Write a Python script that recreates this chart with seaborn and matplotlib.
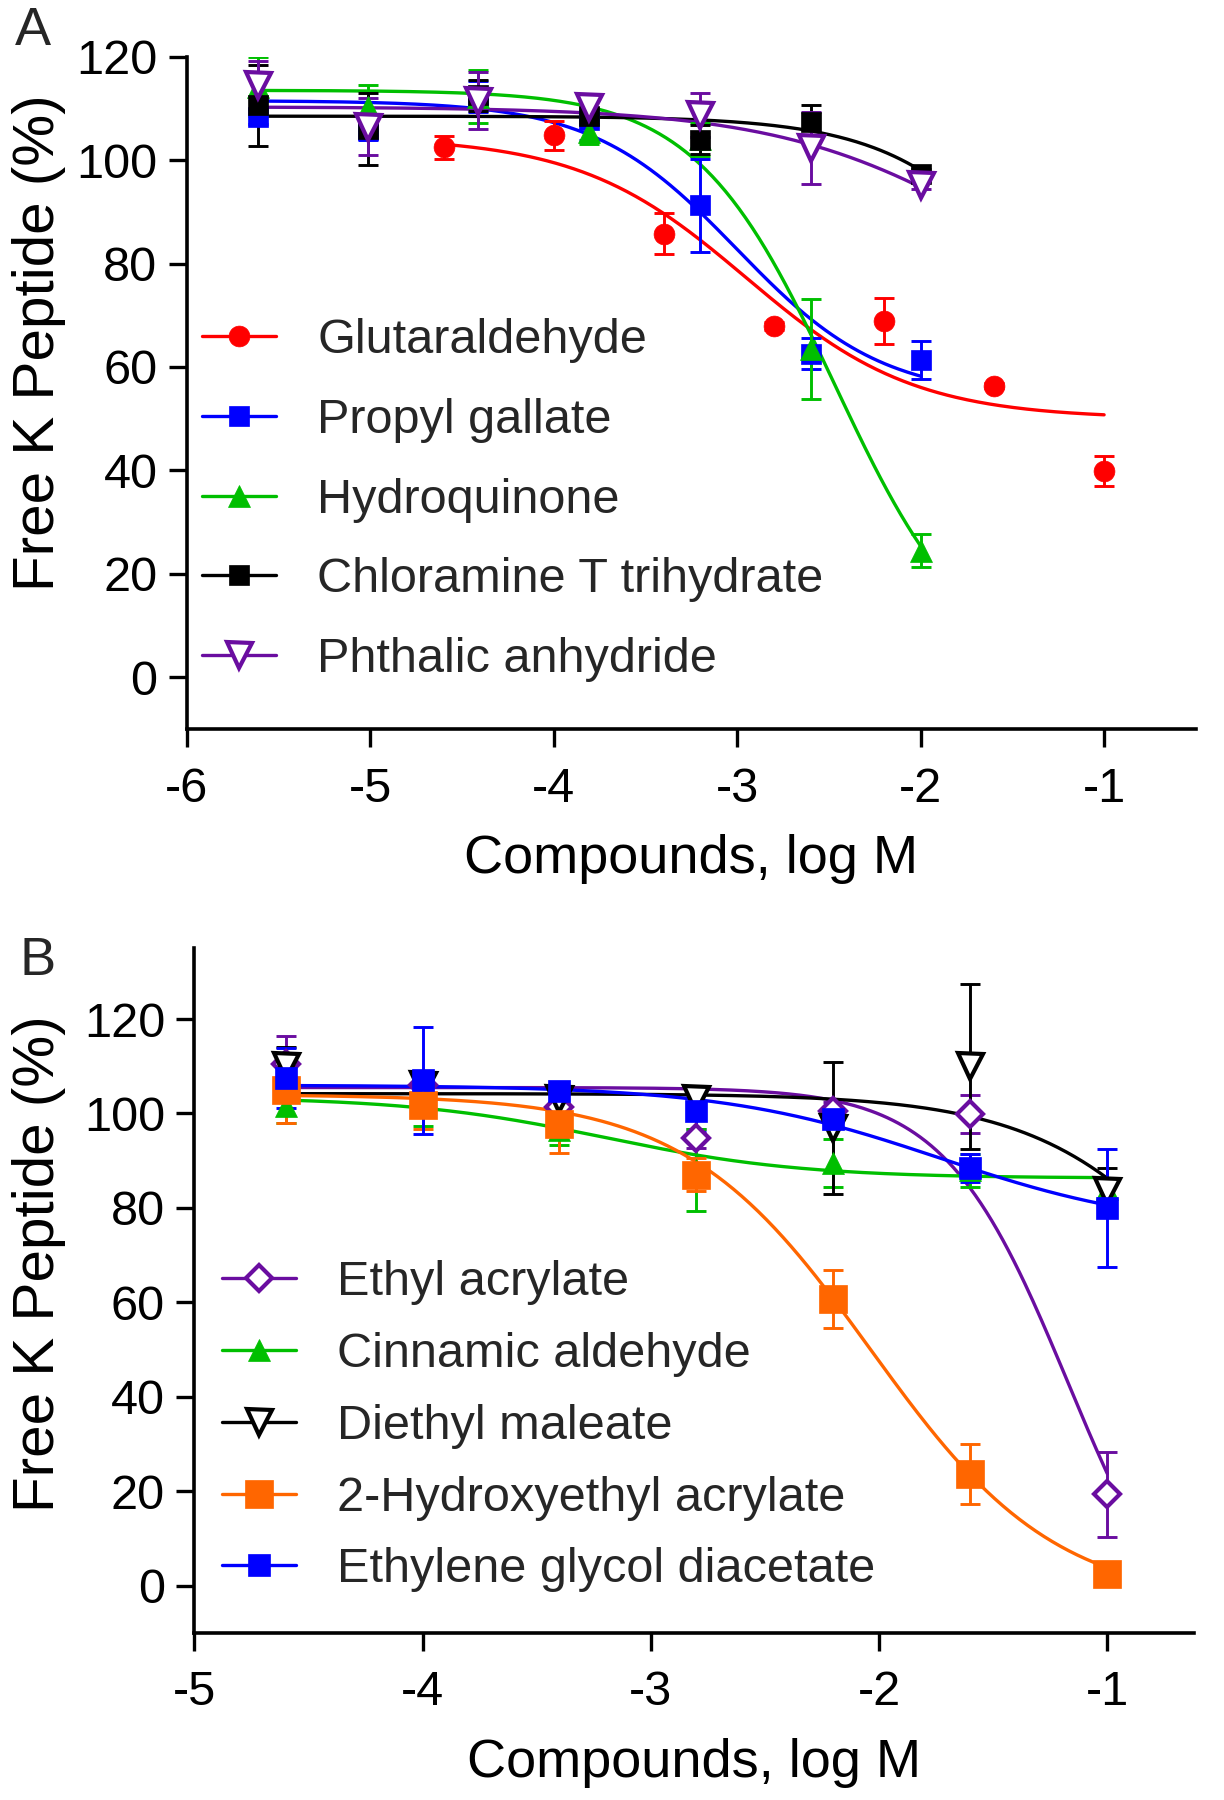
import numpy as np
import pandas as pd
import matplotlib
matplotlib.use("Agg")
import matplotlib.pyplot as plt
import seaborn as sns
from matplotlib.lines import Line2D

sns.set_theme(style="ticks")
plt.rcParams["font.family"] = ["Liberation Sans", "DejaVu Sans"]
plt.rcParams["axes.unicode_minus"] = False

# ---------------- Panel A data ----------------
a_names = ["Glutaraldehyde", "Propyl gallate", "Hydroquinone",
           "Chloramine T trihydrate", "Phthalic anhydride"]
x_glut = [-4.6, -4.0, -3.4, -2.8, -2.2, -1.6, -1.0]
x_a = [-5.61, -5.01, -4.41, -3.81, -3.2, -2.6, -2.0]

y_glut = [102.5, 104.8, 85.8, 67.9, 68.9, 56.4, 39.9]
e_glut = [2.2, 2.8, 4.0, 0.8, 4.5, 0.5, 2.9]
y_prop = [108.4, 105.8, 112.3, 107.7, 91.3, 62.6, 61.3]
e_prop = [1.5, 2.0, 3.0, 3.9, 9.0, 3.0, 3.7]
y_hydro = [114.2, 110.2, 112.3, 105.5, 104.0, 63.5, 24.5]
e_hydro = [5.7, 4.4, 5.2, 2.3, 3.2, 9.7, 3.2]
y_chlor = [110.6, 106.0, 112.5, 108.5, 103.9, 107.4, 97.3]
e_chlor = [7.8, 7.0, 3.0, 1.5, 2.8, 3.2, 1.0]
y_phth = [114.5, 106.5, 111.5, 110.3, 108.7, 102.3, 95.2]
e_phth = [4.7, 5.5, 5.5, 1.5, 4.3, 7.0, 0.8]

# fitted 4-parameter logistic curves: top, bottom, logEC50, hill
fit_a_top = [104.5, 111.5, 113.5, 108.5, 110.3]
fit_a_bottom = [50.0, 54.0, 0.0, 0.0, 60.0]
fit_a_logec50 = [-2.95, -3.0, -2.47, -1.03, -1.5]
fit_a_hill = [0.95, 1.1, 1.15, 1.0, 0.7]

# ---------------- Panel B data ----------------
b_names = ["Ethyl acrylate", "Cinnamic aldehyde", "Diethyl maleate",
           "2-Hydroxyethyl acrylate", "Ethylene glycol diacetate"]
x_b = [-4.6, -4.0, -3.4, -2.8, -2.2, -1.6, -1.0]
y_ea = [110.5, 106.0, 101.4, 94.7, 100.5, 99.9, 19.3]
e_ea = [6.0, 2.0, 2.0, 2.0, 2.0, 4.0, 9.0]
y_ca = [101.5, 102.0, 96.5, 88.0, 89.5, 88.0, 84.0]
e_ca = [3.5, 4.6, 3.2, 8.7, 5.0, 3.5, 2.0]
y_dm = [110.0, 106.0, 103.0, 103.0, 97.0, 110.0, 83.5]
e_dm = [4.0, 2.0, 2.0, 2.0, 14.0, 17.5, 5.0]
y_hea = [105.0, 101.8, 97.7, 87.0, 60.7, 23.6, 2.5]
e_hea = [7.0, 5.0, 6.0, 3.5, 6.2, 6.3, 1.0]
y_egda = [107.5, 107.0, 104.7, 100.5, 98.9, 88.5, 80.0]
e_egda = [6.3, 11.3, 1.5, 4.5, 2.0, 3.0, 12.5]

fit_b_top = [105.5, 103.5, 104.2, 104.0, 106.0]
fit_b_bottom = [-20.0, 86.3, 0.0, -4.0, 75.0]
fit_b_logec50 = [-1.17, -3.2, -0.35, -2.037, -1.73]
fit_b_hill = [1.6, 1.0, 1.05, 1.07, 0.9]

# ---------------- styles ----------------
RED, BLUE, GREEN, BLACK = "#FF0000", "#0000FF", "#00BF00", "#000000"
PURPLE, ORANGE = "#6A0DA0", "#FF6600"

a_series = [
    dict(x=x_glut, y=y_glut, e=e_glut, c=RED, m="o", ms=15, open=False),
    dict(x=x_a, y=y_prop, e=e_prop, c=BLUE, m="s", ms=15, open=False),
    dict(x=x_a, y=y_hydro, e=e_hydro, c=GREEN, m="^", ms=16, open=False),
    dict(x=x_a, y=y_chlor, e=e_chlor, c=BLACK, m="s", ms=15, open=False),
    dict(x=x_a, y=y_phth, e=e_phth, c=PURPLE, m="v", ms=18, open=True),
]
b_series = [
    dict(x=x_b, y=y_ea, e=e_ea, c=PURPLE, m="D", ms=13, open=True),
    dict(x=x_b, y=y_ca, e=e_ca, c=GREEN, m="^", ms=16, open=False),
    dict(x=x_b, y=y_dm, e=e_dm, c=BLACK, m="v", ms=18, open=True),
    dict(x=x_b, y=y_hea, e=e_hea, c=ORANGE, m="s", ms=19.5, open=False),
    dict(x=x_b, y=y_egda, e=e_egda, c=BLUE, m="s", ms=15.5, open=False),
]


def logistic(x, top, bottom, c, h):
    return bottom + (top - bottom) / (1.0 + 10 ** ((x - c) * h))


def draw_panel(ax, series, names, tops, bottoms, cs, hs):
    # fitted curves
    for s, name, t, b, c, h in zip(series, names, tops, bottoms, cs, hs):
        xx = np.linspace(min(s["x"]), max(s["x"]), 300)
        df = pd.DataFrame({"x": xx, "y": logistic(xx, t, b, c, h)})
        sns.lineplot(data=df, x="x", y="y", color=s["c"], lw=2.4, ax=ax,
                     legend=False, zorder=2)
    # points with error bars
    handles = []
    for s, name in zip(series, names):
        ax.errorbar(s["x"], s["y"], yerr=s["e"], fmt="none", ecolor=s["c"],
                    elinewidth=2.1, capsize=7.5, capthick=2.1, zorder=3)
        mfc = "white" if s["open"] else s["c"]
        mew = 3.0 if s["open"] else 0.5
        ax.plot(s["x"], s["y"], linestyle="none", marker=s["m"], ms=s["ms"],
                mfc=mfc, mec=s["c"], mew=mew, zorder=4)
        handles.append(Line2D([], [], color=s["c"], lw=2.4, marker=s["m"],
                              ms=s["ms"], mfc=mfc, mec=s["c"], mew=mew))
    return handles


fig = plt.figure(figsize=(12.24, 18), dpi=100)
axA = fig.add_axes([0.1525, 0.595, 0.8245, 0.3735])
axB = fig.add_axes([0.1587, 0.0929, 0.8168, 0.3803])

hA = draw_panel(axA, a_series, a_names, fit_a_top, fit_a_bottom,
                fit_a_logec50, fit_a_hill)
hB = draw_panel(axB, b_series, b_names, fit_b_top, fit_b_bottom,
                fit_b_logec50, fit_b_hill)

axA.set_xlim(-6, -0.5)
axA.set_ylim(-10, 120)
axA.set_xticks([-6, -5, -4, -3, -2, -1])
axA.set_yticks([0, 20, 40, 60, 80, 100, 120])

axB.set_xlim(-5, -0.62)
axB.set_ylim(-10, 135)
axB.set_xticks([-5, -4, -3, -2, -1])
axB.set_yticks([0, 20, 40, 60, 80, 100, 120])

for ax in (axA, axB):
    sns.despine(ax=ax)
    for sp in ("left", "bottom"):
        ax.spines[sp].set_linewidth(2.6)
        ax.spines[sp].set_color("black")
    ax.tick_params(axis="both", length=13, width=2.4, labelsize=35,
                   pad=8, color="black", labelcolor="black")
    ax.tick_params(axis="x", pad=14)
    ax.set_xlabel("Compounds, log M", fontsize=39, labelpad=16, color="black")
    ax.set_ylabel("Free K Peptide (%)", fontsize=42, color="black")
    ax.grid(False)

axA.yaxis.set_label_coords(-0.1196, 0.574)
axB.yaxis.set_label_coords(-0.1283, 0.539)

axA.legend(hA, a_names, loc="upper left", bbox_to_anchor=(0.015, 0.611),
           frameon=False, fontsize=35, handlelength=1.52, handletextpad=0.85,
           labelspacing=0.715, borderpad=0, borderaxespad=0)
axB.legend(hB, b_names, loc="upper left", bbox_to_anchor=(0.028, 0.544),
           frameon=False, fontsize=35, handlelength=1.52, handletextpad=0.85,
           labelspacing=0.55, borderpad=0, borderaxespad=0)

fig.text(15 / 1224, 1 - 45 / 1800, "A", fontsize=39, va="baseline", ha="left")
fig.text(20 / 1224, 1 - 975 / 1800, "B", fontsize=39, va="baseline", ha="left")

fig.savefig("out.png", dpi=100, facecolor="white")
